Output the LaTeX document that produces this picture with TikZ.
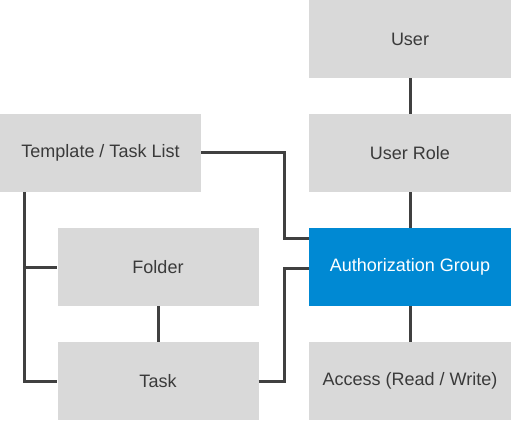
\documentclass[tikz,border=0pt]{standalone}
\usepackage{fontspec}
\setmainfont{Liberation Sans}
\usetikzlibrary{calc}
\definecolor{boxgrey}{HTML}{D9D9D9}
\definecolor{sapblue}{HTML}{0089D3}
\definecolor{txtgrey}{HTML}{3A3A3A}
\definecolor{linegrey}{HTML}{404040}
\tikzset{
  box/.style={rectangle, fill=boxgrey, minimum width=202pt, minimum height=78pt, inner sep=0pt,
    text=txtgrey, font=\fontsize{18}{21}\selectfont},
  hibox/.style={box, fill=sapblue, text=white},
  link/.style={draw=linegrey, line width=3pt}
}
\begin{document}
\begin{tikzpicture}[x=1pt, y=-1pt]
\useasboundingbox (0,0) rectangle (511,422);
\node[box] (user) at (410,39) {User};
\node[box] (role) at (410,153) {User Role};
\node[box, minimum width=201pt] (tmpl) at (100.5,153) {Template / Task List};
\node[hibox] (auth) at (410,267) {Authorization Group};
\node[box, minimum width=201pt] (folder) at (158,267) {Folder};
\node[box, minimum width=201pt] (task) at (158,381) {Task};
\node[box] (access) at (410,381) {Access (Read / Write)};
\coordinate (tbus) at ($(tmpl.south west)+(25,0)$);
\coordinate (rbus) at ($(tmpl.east)+(83,0)$);
\draw[link] (user.south) -- (role.north);
\draw[link] (role.south) -- (auth.north);
\draw[link] (auth.south) -- (access.north);
\draw[link] (folder.south) -- (task.north);
\draw[link] (tmpl.east) -- (rbus) |- ($(auth.north west)+(0,11)$);
\draw[link] (task.east) -- (rbus |- task.east) |- ($(auth.west)+(0,1)$);
\draw[link] (tbus) |- (task.west);
\draw[link] (tbus |- folder.west) -- (folder.west);
\end{tikzpicture}
\end{document}
